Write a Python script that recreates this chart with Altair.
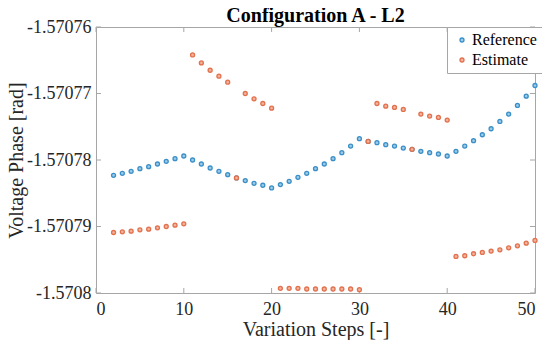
import altair as alt
import pandas as pd

steps = list(range(2, 51))

reference = [
    -1.5707823, -1.5707820, -1.5707817, -1.5707813, -1.5707810, -1.5707806, -1.5707802, -1.5707798, -1.5707794,
    -1.5707800, -1.5707806, -1.5707812, -1.5707817, -1.5707822, -1.5707827, -1.5707831, -1.5707835, -1.5707838, -1.5707842,
    -1.5707837, -1.5707832, -1.5707826, -1.5707820, -1.5707813, -1.5707806, -1.5707798, -1.5707789, -1.5707779, -1.5707768,
    -1.5707772, -1.5707774, -1.5707777, -1.5707779, -1.5707782, -1.5707784, -1.5707787, -1.5707789, -1.5707791, -1.5707794,
    -1.5707787, -1.5707779, -1.5707771, -1.5707762, -1.5707753, -1.5707742, -1.5707731, -1.5707718, -1.5707704, -1.5707688,
]

estimate = [
    -1.5707909, -1.5707908, -1.5707907, -1.5707905, -1.5707904, -1.5707902, -1.5707900, -1.5707898, -1.5707896,
    -1.5707642, -1.5707654, -1.5707665, -1.5707674, -1.5707683, -1.5707827, -1.5707700, -1.5707708, -1.5707715, -1.5707722,
    -1.5707993, -1.5707993, -1.5707993, -1.5707994, -1.5707994, -1.5707994, -1.5707994, -1.5707994, -1.5707994, -1.5707995,
    -1.5707772, -1.5707715, -1.5707719, -1.5707721, -1.5707724, -1.5707784, -1.5707731, -1.5707734, -1.5707736, -1.5707740,
    -1.5707945, -1.5707944, -1.5707941, -1.5707939, -1.5707937, -1.5707935, -1.5707932, -1.5707929, -1.5707925, -1.5707921,
]

series_names = ["Reference", "Estimate"]
stroke_colors = ["#3A8FC8", "#E2714D"]
fill_colors = ["#9CCBE8", "#F3B29C"]

x_ticks = [0, 10, 20, 30, 40, 50]
y_ticks = [-1.57076, -1.57077, -1.57078, -1.57079, -1.5708]

df = pd.DataFrame({
    "step": steps * 2,
    "value": reference + estimate,
    "series": ["Reference"] * len(steps) + ["Estimate"] * len(steps),
    "order": [0] * len(steps) + [1] * len(steps),
})

FONT = "Liberation Serif"
W, H = 439, 266
TICK = 5
GRAY = "#A6A6A6"

xscale = alt.Scale(domain=[0, 50], nice=False)
yscale = alt.Scale(domain=[-1.5708, -1.57076], nice=False, zero=False)

legend = alt.Legend(title=None, orient="none", legendX=351, legendY=0,
                    symbolSize=16, symbolStrokeWidth=1.3, symbolOffset=2, labelOffset=2,
                    symbolFillColor="#FFFFFF",
                    padding=5, rowPadding=4, labelFont=FONT, labelFontSize=16, labelColor="black",
                    strokeColor=GRAY, fillColor="white")

points = alt.Chart(df).mark_point(filled=False, size=16, strokeWidth=1.3, opacity=1).encode(
    x=alt.X("step:Q", scale=xscale,
            axis=alt.Axis(values=x_ticks, title="Variation Steps [-]", format="d")),
    y=alt.Y("value:Q", scale=yscale,
            axis=alt.Axis(values=y_ticks, title="Voltage Phase [rad]",
                          labelExpr="'-' + format(abs(datum.value), '.6~g')")),
    color=alt.Color("series:N", scale=alt.Scale(domain=series_names, range=stroke_colors),
                    legend=legend),
    fill=alt.Fill("series:N", scale=alt.Scale(domain=series_names, range=fill_colors),
                  legend=None),
    order=alt.Order("order:Q"),
)

xt = pd.DataFrame({"t": x_ticks})
yt = pd.DataFrame({"t": y_ticks})

xticks_bottom = alt.Chart(xt).mark_rule(color=GRAY, strokeWidth=1).encode(
    x=alt.X("t:Q", scale=xscale), y=alt.value(H), y2=alt.value(H - TICK))
xticks_top = alt.Chart(xt).mark_rule(color=GRAY, strokeWidth=1).encode(
    x=alt.X("t:Q", scale=xscale), y=alt.value(0), y2=alt.value(TICK))
yticks_left = alt.Chart(yt).mark_rule(color=GRAY, strokeWidth=1).encode(
    y=alt.Y("t:Q", scale=yscale), x=alt.value(0), x2=alt.value(TICK))
yticks_right = alt.Chart(yt).mark_rule(color=GRAY, strokeWidth=1).encode(
    y=alt.Y("t:Q", scale=yscale), x=alt.value(W), x2=alt.value(W - TICK))

chart = alt.layer(xticks_bottom, xticks_top, yticks_left, yticks_right, points).properties(
    width=W, height=H,
    title=alt.TitleParams("Configuration A - L2", font=FONT, fontSize=20, fontWeight="bold",
                          color="black", anchor="middle", offset=-8),
    autosize=alt.AutoSizeParams(type="none"),
    padding={"left": 88, "top": 19, "right": 7, "bottom": 47},
).configure(
    font=FONT
).configure_view(
    stroke=GRAY, strokeWidth=1
).configure_axis(
    grid=False, domain=False, ticks=False,
    labelFont=FONT, labelFontSize=18, labelColor="#262626",
    titleFont=FONT, titleFontSize=20, titleFontWeight="normal", titleColor="#262626",
).configure_axisX(
    labelPadding=7, titlePadding=1,
).configure_axisY(
    labelPadding=5, titlePadding=0,
).configure_legend(
    labelFont=FONT, labelFontSize=16, labelColor="black",
)

chart.save("out.html", embed_options={"renderer": "svg", "actions": False})
